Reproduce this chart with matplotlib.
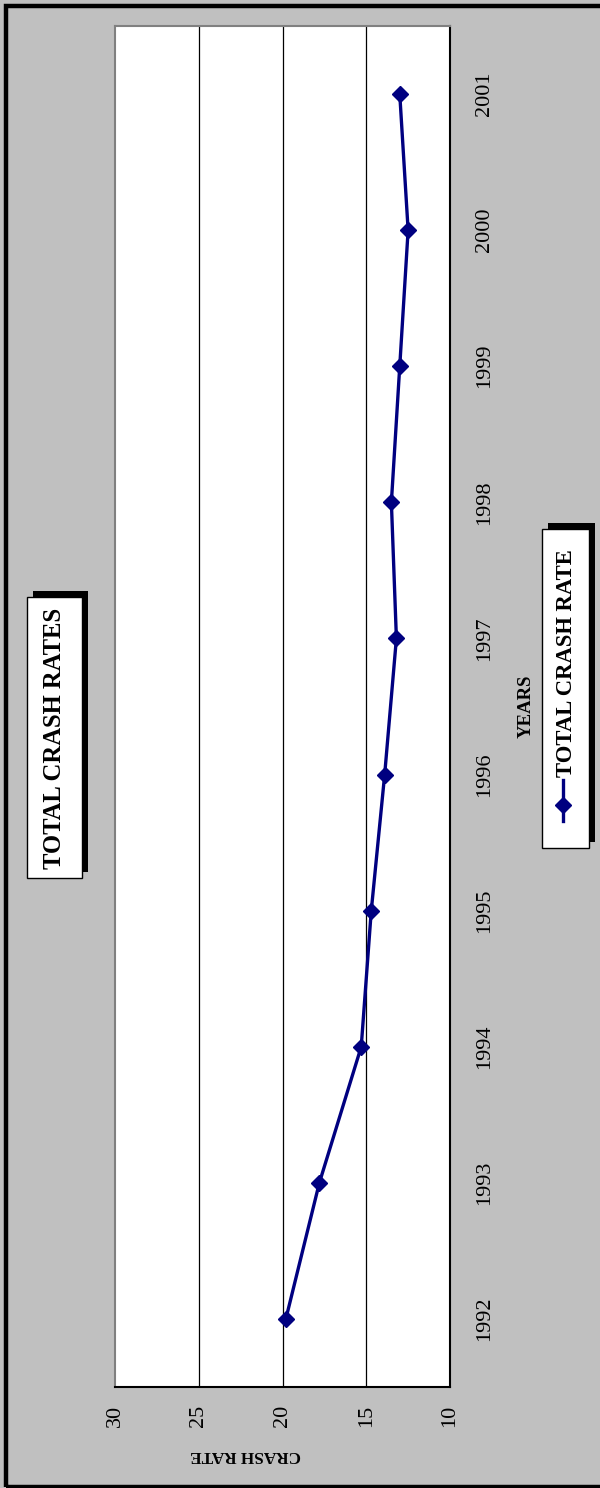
import matplotlib
matplotlib.use("Agg")
import matplotlib.pyplot as plt
from matplotlib.patches import Rectangle
from matplotlib.lines import Line2D

years = ["1992", "1993", "1994", "1995", "1996", "1997", "1998", "1999", "2000", "2001"]
crash_rate = [19.8, 17.8, 15.3, 14.7, 13.9, 13.2, 13.5, 13.0, 12.5, 13.0]
rate_ticks = [30, 25, 20, 15, 10]
grid_values = [25, 20, 15]
title = "TOTAL CRASH RATES"
legend_label = "TOTAL CRASH RATE"
x_title = "YEARS"
y_title = "CRASH RATE"

W, H = 600, 1488
plt.rcParams['font.family'] = ['Liberation Serif', 'DejaVu Serif']

fig = plt.figure(figsize=(W / 100, H / 100), dpi=100)
fig.patch.set_facecolor('#C0C0C0')

def fx(x):
    return x / W

def fy(y):
    return 1 - y / H

# outer frame (right edge falls outside the picture)
fig.add_artist(Rectangle((fx(6), fy(1487)), fx(700), fy(6) - fy(1487),
                         transform=fig.transFigure, facecolor='none',
                         edgecolor='black', linewidth=3.2))

# plot area
left, right, top, bottom = 115, 450, 26, 1387
ax = fig.add_axes([fx(left), fy(bottom), fx(right) - fx(left), fy(top) - fy(bottom)])
ax.set_facecolor('white')
pos = list(range(len(years)))
ax.plot(crash_rate, pos, color='#000080', linewidth=2.4, marker='D',
        markersize=8.5, markeredgewidth=1, markerfacecolor='#000080',
        markeredgecolor='#000080', zorder=3, clip_on=False)
ax.set_xlim(30, 10)
ax.set_ylim(-0.5, len(years) - 0.5)
for g in grid_values:
    ax.axvline(g, color='black', linewidth=0.9, zorder=1)

ax.set_xticks(rate_ticks)
ax.set_xticklabels([str(t) for t in rate_ticks], rotation=90, fontsize=16)
ax.tick_params(axis='x', length=0, pad=13)
ax.yaxis.tick_right()
ax.set_yticks(pos)
ax.set_yticklabels(years, rotation=90, fontsize=16, va='center')
ax.tick_params(axis='y', length=0, pad=18)

for s in ['left', 'top']:
    ax.spines[s].set_color('#808080')
    ax.spines[s].set_linewidth(1.5)
for s in ['right', 'bottom']:
    ax.spines[s].set_color('black')
    ax.spines[s].set_linewidth(1.5)

# axis titles
fig.text(fx(246), fy(1455), y_title, rotation=180, fontsize=12.3, fontweight='bold',
         ha='center', va='center')
fig.text(fx(526), fy(706), x_title, rotation=90, fontsize=13.5, fontweight='bold',
         ha='center', va='center')

def shadow_box(x0, y0, x1, y1, off=6):
    fig.add_artist(Rectangle((fx(x0 + off), fy(y1 - off)), fx(x1 - x0), fy(y0) - fy(y1),
                             transform=fig.transFigure, facecolor='black',
                             edgecolor='black', linewidth=0))
    fig.add_artist(Rectangle((fx(x0), fy(y1)), fx(x1 - x0), fy(y0) - fy(y1),
                             transform=fig.transFigure, facecolor='white',
                             edgecolor='black', linewidth=1.0))

# title box
shadow_box(27, 597, 82, 878)
fig.text(fx(55), fy(738), title, rotation=90, fontsize=17.7, fontweight='bold',
         ha='center', va='center')

# legend box
shadow_box(542, 529, 589, 848)
fig.add_artist(Line2D([fx(563), fx(563)], [fy(821), fy(780)], transform=fig.transFigure,
                      color='#000080', linewidth=2.4))
fig.add_artist(Line2D([fx(563)], [fy(805)], transform=fig.transFigure, marker='D',
                      markersize=8.5, color='#000080', linestyle='none'))
fig.text(fx(566), fy(663), legend_label, rotation=90, fontsize=16.3, fontweight='bold',
         ha='center', va='center')

fig.savefig('out.png', dpi=100, facecolor=fig.get_facecolor())
